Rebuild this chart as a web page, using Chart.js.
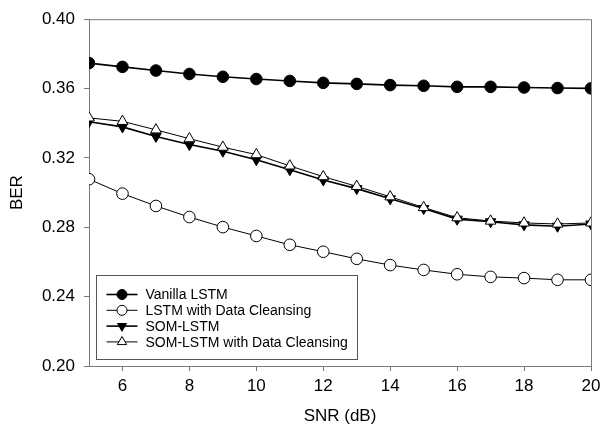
<!DOCTYPE html>
<html><head><meta charset="utf-8">
<script src="https://cdn.jsdelivr.net/npm/chart.js@4.4.1/dist/chart.umd.min.js"></script>
<style>html,body{margin:0;padding:0;background:#fff}#wrap{width:609px;height:440px;position:relative}</style>
</head><body><div id="wrap"><canvas id="c" width="609" height="440"></canvas></div>
<script>
const snr = [5,6,7,8,9,10,11,12,13,14,15,16,17,18,19,20];
const vanillaLSTM = [0.3747,0.3725,0.3704,0.3684,0.3668,0.3655,0.3644,0.3633,0.3627,0.3620,0.3616,0.3610,0.3610,0.3606,0.3603,0.3601];
const lstmDC      = [0.3077,0.2994,0.2923,0.2859,0.2801,0.2750,0.2699,0.2659,0.2618,0.2582,0.2554,0.2529,0.2514,0.2507,0.2497,0.2497];
const somLSTM     = [0.3409,0.3379,0.3324,0.3277,0.3239,0.3190,0.3132,0.3073,0.3023,0.2964,0.2908,0.2847,0.2832,0.2814,0.2806,0.2819];
const somLSTMDC   = [0.3431,0.3411,0.3362,0.3311,0.3262,0.3219,0.3154,0.3092,0.3036,0.2976,0.2914,0.2855,0.2836,0.2825,0.2819,0.2825];
const xTicks = [6,8,10,12,14,16,18,20];
const yTicks = [0.20,0.24,0.28,0.32,0.36,0.40];
const seriesNames = ['Vanilla LSTM','LSTM with Data Cleansing','SOM-LSTM','SOM-LSTM with Data Cleansing'];

const FONT = "'Liberation Sans', Arial, sans-serif";
const AXIS = '#7a7a7a';
const pts = arr => snr.map((x,i)=>({x:x,y:arr[i]}));

const styles = [
  {pointStyle:'circle', bg:'#000', rot:0, lw:1.6, r:5.8},
  {pointStyle:'circle', bg:'#fff', rot:0, lw:1, r:5.8},
  {pointStyle:'triangle', bg:'#000', rot:180, lw:1.6, r:6},
  {pointStyle:'triangle', bg:'#fff', rot:0, lw:1, r:6.2}
];
const dataArrs = [vanillaLSTM, lstmDC, somLSTM, somLSTMDC];
const orders = [1,1,2,0];

const datasets = dataArrs.map((arr,i)=>({
  label: seriesNames[i],
  data: pts(arr),
  borderColor:'#000',
  borderWidth: styles[i].lw,
  backgroundColor: styles[i].bg,
  pointStyle: styles[i].pointStyle,
  pointRotation: styles[i].rot,
  pointRadius: styles[i].r,
  pointBorderWidth: 1,
  pointBorderColor:'#000',
  pointBackgroundColor: styles[i].bg,
  tension: 0,
  order: orders[i]
}));

const framePlugin = {
  id:'frame',
  beforeDatasetsDraw(chart){
    const a = chart.chartArea, ctx = chart.ctx;
    ctx.save();
    ctx.strokeStyle = AXIS; ctx.lineWidth = 1;
    ctx.beginPath();
    ctx.moveTo(a.left, a.top+0.5); ctx.lineTo(a.right+0.5, a.top+0.5); ctx.lineTo(a.right+0.5, a.bottom);
    ctx.stroke();
    ctx.restore();
  }
};

const legendPlugin = {
  id:'boxLegend',
  afterDraw(chart){
    const a = chart.chartArea, ctx = chart.ctx;
    const bx = Math.round(a.left+7)+0.5, by = Math.round(a.bottom-91)+0.5, bw = 261, bh = 84;
    ctx.save();
    ctx.fillStyle = '#fff'; ctx.fillRect(bx,by,bw,bh);
    ctx.strokeStyle = '#555'; ctx.lineWidth = 1; ctx.strokeRect(bx,by,bw,bh);
    ctx.font = '14px ' + FONT; ctx.textBaseline = 'middle'; ctx.textAlign='left';
    seriesNames.forEach((name,i)=>{
      const y = by + 19 + i*15.8;
      ctx.strokeStyle = '#000'; ctx.lineWidth = styles[i].lw;
      ctx.beginPath(); ctx.moveTo(bx+10,y); ctx.lineTo(bx+41,y); ctx.stroke();
      ctx.fillStyle = styles[i].bg; ctx.strokeStyle='#000'; ctx.lineWidth = 1;
      Chart.helpers.drawPoint(ctx,{pointStyle:styles[i].pointStyle, radius:styles[i].r-0.8, rotation:styles[i].rot, borderWidth:1}, bx+25.5, y);
      ctx.fillStyle = '#000';
      ctx.fillText(name, bx+49, y+1);
    });
    ctx.restore();
  }
};

new Chart(document.getElementById('c'), {
  type:'line',
  data:{datasets},
  options:{
    responsive:false,
    animation:false,
    devicePixelRatio:1,
    layout:{padding:{left:0,right:18,top:12,bottom:0}},
    plugins:{legend:{display:false}, tooltip:{enabled:false}},
    scales:{
      x:{
        type:'linear', min:5, max:20,
        afterBuildTicks: s => { s.ticks = xTicks.map(v=>({value:v})); },
        afterFit: s => { s.height = 74; },
        ticks:{font:{family:FONT,size:17}, color:'#000', padding:5, maxRotation:0, autoSkip:false},
        grid:{drawOnChartArea:false, tickLength:5, color:AXIS},
        border:{color:AXIS, width:1},
        title:{display:true, text:'SNR (dB)', color:'#000', font:{family:FONT,size:17}, padding:{top:0,bottom:13}}
      },
      y:{
        type:'linear', min:0.2, max:0.4,
        afterBuildTicks: s => { s.ticks = yTicks.map(v=>({value:v})); },
        afterFit: s => { s.width = 89; },
        ticks:{font:{family:FONT,size:17}, color:'#000', padding:9, callback:v=>Number(v).toFixed(2)},
        grid:{drawOnChartArea:false, tickLength:5, color:AXIS},
        border:{color:AXIS, width:1},
        title:{display:true, text:'BER', color:'#000', font:{family:FONT,size:17}, padding:{top:7,bottom:0}}
      }
    }
  },
  plugins:[framePlugin, legendPlugin]
});
</script></body></html>
